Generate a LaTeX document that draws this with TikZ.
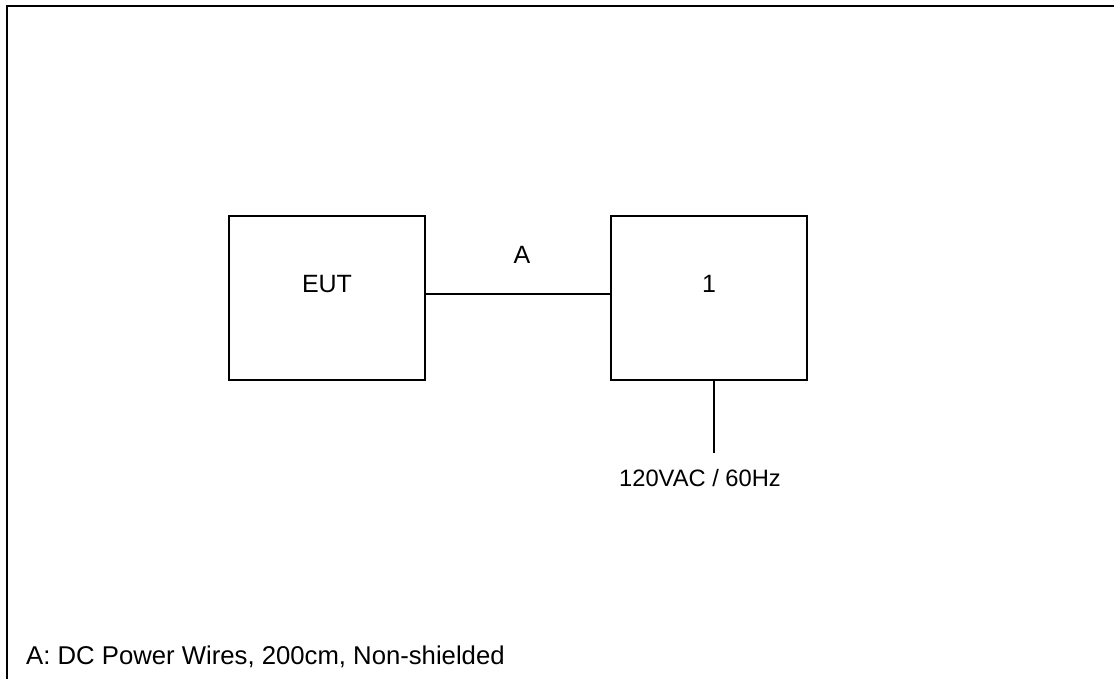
\documentclass[tikz,border=0pt]{standalone}
\usepackage{fontspec}
\setmainfont{Liberation Sans}
\begin{document}
\begin{tikzpicture}[x=1pt,y=-1pt,
  unitbox/.style={draw, line width=2pt, minimum width=196pt, minimum height=164pt, inner sep=0pt, font=\fontsize{25}{30}\selectfont},
  wire/.style={line width=2pt},
  lbl/.style={inner sep=0pt, font=\fontsize{25}{30}\selectfont}]
\useasboundingbox (0,0) rectangle (1114,678);
\draw[line width=2.5pt] (7,690) -- (7,6) -- (1130,6);
\node[unitbox] (eut) at (327,298) {};
\node[lbl] (eutt) at (327,284) {EUT};
\node[unitbox] (one) at (709,298) {};
\node[lbl] (onet) at (709,284) {1};
\draw[wire] (eut.east |- 0,294) -- (one.west |- 0,294);
\node[lbl] (a) at (522,255) {A};
\coordinate (pw) at (714,453);
\draw[wire] (one.south -| pw) -- (pw);
\node[lbl, font=\fontsize{23.7}{28}\selectfont] (pwt) at (700,478) {120VAC / 60Hz};
\node[lbl, anchor=west, font=\fontsize{25.7}{30}\selectfont] (note) at (26,657) {A: DC Power Wires, 200cm, Non-shielded};
\end{tikzpicture}
\end{document}
